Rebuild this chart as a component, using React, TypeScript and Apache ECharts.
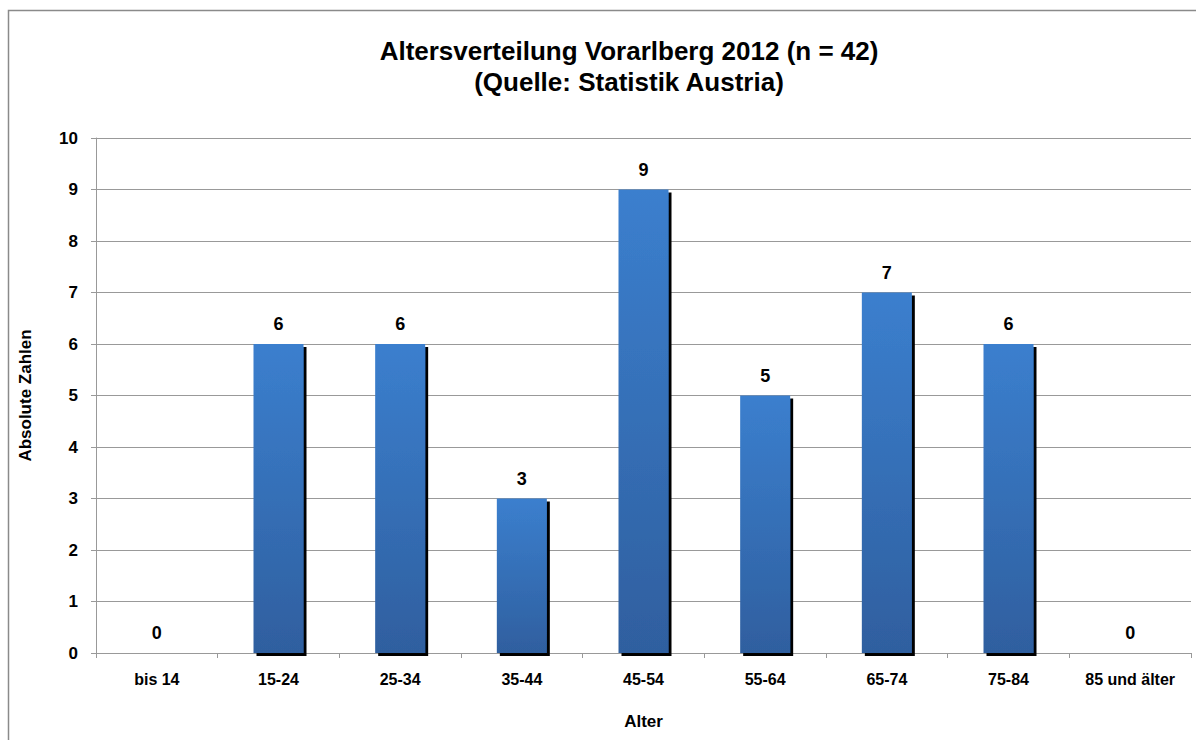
import React, { useEffect, useRef } from "react";
import * as echarts from "echarts";

const categories = ["bis 14", "15-24", "25-34", "35-44", "45-54", "55-64", "65-74", "75-84", "85 und älter"];
const counts = [0, 6, 6, 3, 9, 5, 7, 6, 0];
const titleLines = ["Altersverteilung Vorarlberg 2012 (n = 42)", "(Quelle: Statistik Austria)"];

export default function App() {
  const ref = useRef<HTMLDivElement>(null);
  useEffect(() => {
    const chart = echarts.init(ref.current!, null, { renderer: "svg" });
    const font = "Liberation Sans, Arial, sans-serif";
    chart.setOption({
      animation: false,
      backgroundColor: "#ffffff",
      title: {
        text: titleLines.join("\n"),
        left: 624,
        textAlign: "center",
        top: 30,
        textStyle: { fontFamily: font, fontWeight: "bold", fontSize: 26, color: "#000", lineHeight: 31 },
      },
      graphic: [
        {
          type: "polyline",
          shape: { points: [[1400, 10.5], [8.5, 10.5], [8.5, 900]] },
          style: { fill: "none", stroke: "#8a8a8a", lineWidth: 1.5 },
          silent: true,
        },
      ],
      grid: { left: 96, right: 5, top: 138, bottom: 87, containLabel: false },
      xAxis: {
        type: "category",
        data: categories,
        name: "Alter",
        nameLocation: "middle",
        nameGap: 60,
        nameTextStyle: { fontFamily: font, fontWeight: "bold", fontSize: 17, color: "#000" },
        axisLine: { lineStyle: { color: "#999", width: 1 } },
        axisTick: { show: true, alignWithLabel: false, length: 5, lineStyle: { color: "#999" } },
        axisLabel: { fontFamily: font, fontWeight: "bold", fontSize: 16, color: "#000", margin: 18, interval: 0 },
      },
      yAxis: {
        type: "value",
        min: 0,
        max: 10,
        interval: 1,
        name: "Absolute Zahlen",
        nameLocation: "middle",
        nameGap: 62,
        nameRotate: 90,
        nameTextStyle: { fontFamily: font, fontWeight: "bold", fontSize: 17, color: "#000" },
        axisLine: { show: true, lineStyle: { color: "#999", width: 1 } },
        axisTick: { show: true, length: 5, lineStyle: { color: "#999" } },
        axisLabel: { fontFamily: font, fontWeight: "bold", fontSize: 17, color: "#000", margin: 18 },
        splitLine: { lineStyle: { color: "#999", width: 1 } },
      },
      series: [
        {
          type: "bar",
          data: counts,
          barWidth: 50,
          itemStyle: {
            color: new echarts.graphic.LinearGradient(0, 0, 0, 1, [
              { offset: 0, color: "#3b7fce" },
              { offset: 1, color: "#2f5f9f" },
            ]),
            shadowColor: "#000",
            shadowOffsetX: 3,
            shadowOffsetY: 3,
            shadowBlur: 0,
          },
          label: {
            show: true,
            position: "top",
            distance: 11,
            fontFamily: font,
            fontWeight: "bold",
            fontSize: 18,
            color: "#000",
          },
        },
      ],
    });
    return () => chart.dispose();
  }, []);
  return <div ref={ref} style={{ position: "fixed", left: 0, top: 0, width: 1196, height: 740 }} />;
}
